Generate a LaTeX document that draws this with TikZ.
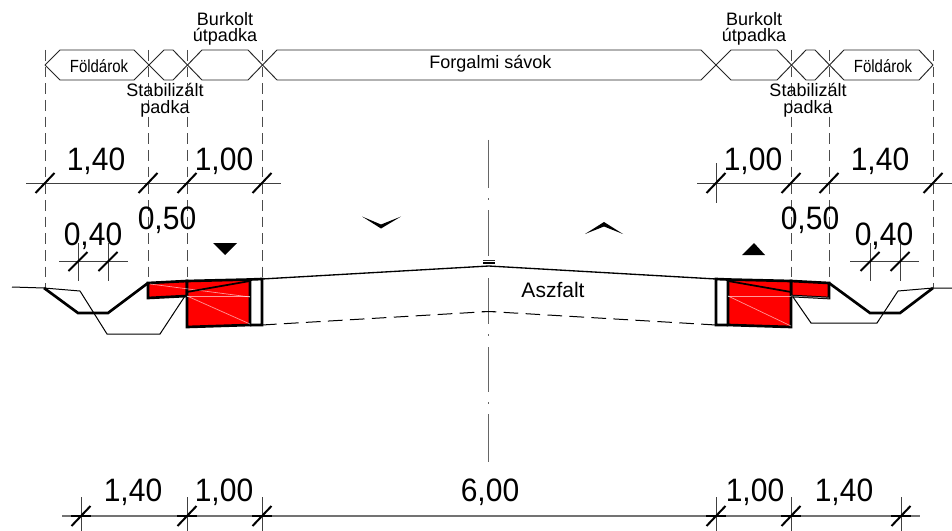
\documentclass[tikz,border=0pt]{standalone}
\usepackage{fontspec}
\setmainfont{Liberation Sans}
\begin{document}
\begin{tikzpicture}[x=0.75pt,y=-0.75pt,
  thinl/.style={line width=0.75pt,black},
  thickl/.style={line width=2pt,black,line join=miter},
  banner/.style={line width=0.7pt,black!85},
  guide/.style={line width=0.75pt,black!70,dash pattern=on 8pt off 4.5pt},
  dimline/.style={line width=0.7pt,black!75},
  slash/.style={line width=1.5pt,black},
  axisl/.style={line width=0.8pt,black!60},
  bigdim/.style={inner sep=0pt,yscale=1.08,font=\fontsize{22.5pt}{24pt}\selectfont},
  midlab/.style={inner sep=0pt,align=center,font=\fontsize{13.5pt}{13.5pt}\selectfont},
  bandlab/.style={inner sep=0pt,xscale=0.85,font=\fontsize{13.2pt}{14pt}\selectfont},
  roadlab/.style={inner sep=0pt,font=\fontsize{13.5pt}{14pt}\selectfont},
  redfill/.style={fill=red,draw=black,line width=2pt},
  faint/.style={line width=0.5pt,white,opacity=0.6},
  tick/.pic={\draw[slash] (-9.5,10) -- (9.5,-10);}
]
\useasboundingbox (0,0) rectangle (952,531);
\fill[white] (0,0) rectangle (952,531);

% guides
\foreach \x/\b in {45/288,148/283,187/281,262/279,791/281,829/283,933/288}
  \draw[guide] (\x,50) -- (\x,\b);
\draw[dimline] (716,163) -- (716,203);

% banners
\draw[banner] (45,65) -- (60,50) -- (134,50) -- (164,80) -- (173,80) -- (202,50) -- (248,50) -- (277,80);
\draw[banner] (45,65) -- (60,80) -- (134,80) -- (164,50) -- (173,50) -- (202,80) -- (248,80) -- (277,50) -- (701,50) -- (731,80) -- (777,80) -- (806,50) -- (815,50) -- (844,80) -- (919,80) -- (933,65);
\draw[banner] (277,80) -- (701,80) -- (731,50) -- (777,50) -- (806,80) -- (815,80) -- (844,50) -- (919,50) -- (933,65);

\node[bandlab] (fl) at (99,66) {Földárok};
\node[bandlab] (fr) at (883,66) {Földárok};
\node[roadlab] (fs) at (490.5,63.5) {Forgalmi sávok};
\node[midlab] (bl) at (225,29) {Burkolt\\[-1.5pt]útpadka};
\node[midlab] (br) at (754,29) {Burkolt\\[-1.5pt]útpadka};
\node[midlab] (sl) at (165,100) {Stabilizált\\[-1pt]padka};
\node[midlab] (sr) at (808,100) {Stabilizált\\[-1pt]padka};

% top dimensions
\draw[dimline] (26,183) -- (281,183);
\draw[dimline] (697,183) -- (952,183);
\foreach \x in {45,148,187,262,716,791,829,933} \pic at (\x,183) {tick};
\node[bigdim] (d1) at (96,161) {1,40};
\node[bigdim] (d2) at (224,161) {1,00};
\node[bigdim] (d3) at (753,161) {1,00};
\node[bigdim] (d4) at (880,161) {1,40};
\node[bigdim] (d5) at (167,220) {0,50};
\node[bigdim] (d6) at (810,220) {0,50};
\node[bigdim] (d7) at (93,236) {0,40};
\node[bigdim] (d8) at (884,236) {0,40};

% 0,40 dimensions
\draw[dimline] (59,261.5) -- (128,261.5);
\draw[dimline] (850,261.5) -- (919,261.5);
\foreach \x in {78,108,870,900} {
  \draw[dimline] (\x,243) -- (\x,281);
  \draw[slash] (\x-9.5,271) -- (\x+9.5,252);
}

% axis
\foreach \a/\b in {140/188,210/256,278/324,347/392,414/462} \draw[axisl] (488.7,\a) -- (488.7,\b);
\foreach \a in {199,335,403} \draw[axisl] (488.7,\a-0.7) -- (488.7,\a+0.7);
\draw[line width=1pt,black!85] (483,260.5) -- (495,260.5);
\draw[line width=1.2pt,black] (483,263) -- (495,263);

% slope signs
\fill (362,216.5) -- (381,224.5) -- (401,216.5) -- (381,228.5) -- cycle;
\fill (585,234) -- (604,222) -- (623,234) -- (604,226.5) -- cycle;
\fill (213,243) -- (237,243) -- (225,255) -- cycle;
\fill (742,255) -- (765,255) -- (754,243) -- cycle;

% road surface
\draw[line width=1pt,black] (262,279) -- (488.7,266) -- (716,279);
\draw[thinl,dash pattern=on 11pt off 5.5pt] (262,325) -- (488.7,311.5) -- (716,325);
\draw[thinl] (482,311.5) -- (495,311.5);
\node[inner sep=0pt,font=\fontsize{15.75pt}{16pt}\selectfont] (asz) at (553,290) {Aszfalt};

% left foundation
\draw[thinl] (12,287) -- (44,288) -- (80,291) -- (107,334) -- (160,334) -- (185,296);
\draw[thickl] (44,288) -- (78,313) -- (108,313) -- (148,283);
\draw[redfill] (148,283) -- (187,281) -- (187,296) -- (148,298) -- cycle;
\draw[redfill] (187,281) -- (250,279.5) -- (250,325) -- (187,327) -- cycle;
\draw[faint] (150,284) -- (250,297);
\draw[faint] (187,296) -- (250,296);
\draw[faint] (187,296) -- (250,324);
\draw[line width=1.3pt] (187,292) -- (250,281);
\draw[thickl] (250,279.5) -- (262,279) -- (262,325) -- (250,325);

% right foundation
\draw[thinl] (952,288) -- (933,288) -- (898,291) -- (877,323) -- (811,323) -- (793,297);
\draw[thickl] (933,288) -- (900,313) -- (870,313) -- (829,283);
\draw[redfill] (791,281) -- (829,283) -- (829,298) -- (791,296) -- cycle;
\draw[redfill] (728,279.5) -- (791,281) -- (791,327) -- (728,325) -- cycle;
\draw[faint] (791,296) -- (829,298);
\draw[faint] (728,296) -- (791,296);
\draw[faint] (728,296) -- (791,326);
\draw[line width=1.3pt] (728,281) -- (791,292);
\draw[thickl] (728,279.5) -- (716,279) -- (716,325) -- (728,325);

% bottom dimensions
\draw[line width=0.8pt,black!55] (62,516) -- (920,516);
\foreach \x in {81,187,262,716,791,901} {
  \draw[dimline] (\x,497) -- (\x,531);
  \pic at (\x,516) {tick};
  \draw[line width=1.2pt] (\x-10,516) -- (\x+10,516);
}
\node[bigdim] (e1) at (133,492) {1,40};
\node[bigdim] (e2) at (224,492) {1,00};
\node[bigdim] (e3) at (490,492) {6,00};
\node[bigdim] (e4) at (755,492) {1,00};
\node[bigdim] (e5) at (844,492) {1,40};
\end{tikzpicture}
\end{document}
